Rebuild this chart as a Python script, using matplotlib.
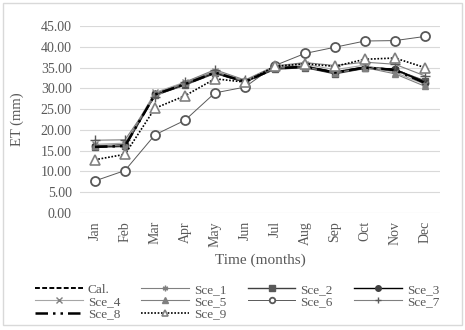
import numpy as np
import matplotlib.pyplot as plt
from matplotlib.patches import Rectangle

plt.rcParams['font.family'] = ['Liberation Serif', 'DejaVu Serif']

months = ['Jan', 'Feb', 'Mar', 'Apr', 'May', 'Jun', 'Jul', 'Aug', 'Sep', 'Oct', 'Nov', 'Dec']

cal   = [16.0, 16.2, 28.5, 31.0, 33.8, 31.6, 34.8, 35.2, 33.8, 35.0, 34.5, 31.5]
sce_1 = [16.2, 16.5, 28.8, 31.3, 34.0, 31.7, 35.0, 35.4, 34.0, 35.2, 34.3, 31.5]
sce_2 = [15.8, 16.0, 28.3, 30.8, 33.6, 31.5, 34.6, 35.0, 33.5, 34.8, 34.5, 31.8]
sce_3 = [16.0, 16.3, 28.6, 31.1, 33.9, 31.6, 34.9, 35.3, 33.9, 35.1, 34.6, 31.4]
sce_4 = [16.5, 16.8, 29.0, 31.5, 34.2, 31.8, 35.2, 35.8, 34.5, 35.6, 33.8, 31.0]
sce_5 = [16.1, 16.3, 28.7, 31.2, 34.0, 31.6, 34.9, 35.2, 33.7, 35.0, 33.5, 30.5]
sce_6 = [7.7, 10.2, 18.8, 22.3, 28.9, 30.3, 35.5, 38.4, 39.9, 41.4, 41.5, 42.5]
sce_7 = [17.5, 17.6, 28.0, 31.5, 34.5, 32.0, 35.4, 36.2, 35.5, 36.3, 35.8, 33.0]
sce_8 = [15.9, 16.1, 28.5, 31.0, 33.8, 31.6, 34.8, 35.2, 33.8, 35.0, 34.4, 31.3]
sce_9 = [12.8, 14.1, 25.2, 28.2, 32.3, 31.5, 35.3, 35.9, 35.3, 37.0, 37.3, 35.0]

txt = '#595959'
x = np.arange(len(months))

fig = plt.figure(figsize=(4.65, 3.3), dpi=100)
ax = fig.add_axes([0.172, 0.355, 0.774, 0.566])

h = {}
h['Cal.'], = ax.plot(x, cal, color='black', ls=(0, (2.5, 1.2)), lw=1.4)
h['Sce_1'], = ax.plot(x, sce_1, color='#808080', lw=0.8, marker=(6, 2, 0), ms=5, mew=1)
h['Sce_2'], = ax.plot(x, sce_2, color='#404040', lw=1.0, marker='s', ms=4.5, mfc='#595959', mec='#595959')
h['Sce_3'], = ax.plot(x, sce_3, color='black', lw=1.0, marker='o', ms=4.5, mfc='#404040', mec='#404040')
h['Sce_4'], = ax.plot(x, sce_4, color='#a6a6a6', lw=0.8, marker='x', ms=5, mec='#808080', mew=1)
h['Sce_5'], = ax.plot(x, sce_5, color='#808080', lw=0.8, marker='^', ms=5, mfc='#808080', mec='#808080')
h['Sce_6'], = ax.plot(x, sce_6, color='#595959', lw=0.7, marker='o', ms=6.5, mfc='white', mec='#595959', mew=1.3)
h['Sce_7'], = ax.plot(x, sce_7, color='#808080', lw=0.8, marker='+', ms=7, mec='#595959', mew=1)
h['Sce_8'], = ax.plot(x, sce_8, color='black', lw=1.8, ls=(0, (5, 2, 1, 2, 1, 2)))
h['Sce_9'], = ax.plot(x, sce_9, color='black', lw=1.2, ls=(0, (1, 1)), marker='^', ms=6.5, mfc='white', mec='#808080', mew=1.2)

ax.set_xlim(-0.5, 11.5)
ax.set_ylim(0, 45)
ax.set_yticks(np.arange(0, 46, 5))
ax.set_yticklabels(['%.2f' % v for v in np.arange(0, 46, 5)])
ax.set_xticks(x)
ax.set_xticklabels(months, rotation=90)
ax.tick_params(length=0, labelsize=10, colors=txt, pad=6)
ax.grid(axis='y', color='#d9d9d9', lw=0.8)
ax.set_axisbelow(True)
for s in ax.spines.values():
    s.set_visible(False)
ax.set_ylabel('ET (mm)', color=txt, fontsize=10.5, labelpad=12)
ax.set_xlabel('Time (months)', color=txt, fontsize=11, labelpad=5)

order = ['Cal.', 'Sce_4', 'Sce_8', 'Sce_1', 'Sce_5', 'Sce_9', 'Sce_2', 'Sce_6', 'Sce_3', 'Sce_7']
leg = fig.legend([h[k] for k in order], order, ncol=4, loc='center',
                 bbox_to_anchor=(0.51, 0.085), frameon=False, fontsize=9.5,
                 handlelength=3.6, handletextpad=0.4, columnspacing=1.6,
                 labelspacing=0.0, borderpad=0)
for t in leg.get_texts():
    t.set_color(txt)
for lh in leg.legend_handles:
    lh.set_markersize(4)

fig.patches.append(Rectangle((0.006, 0.015), 0.988, 0.975, transform=fig.transFigure,
                             fill=False, ec='#d9d9d9', lw=1))

fig.savefig('out.png', dpi=100)
